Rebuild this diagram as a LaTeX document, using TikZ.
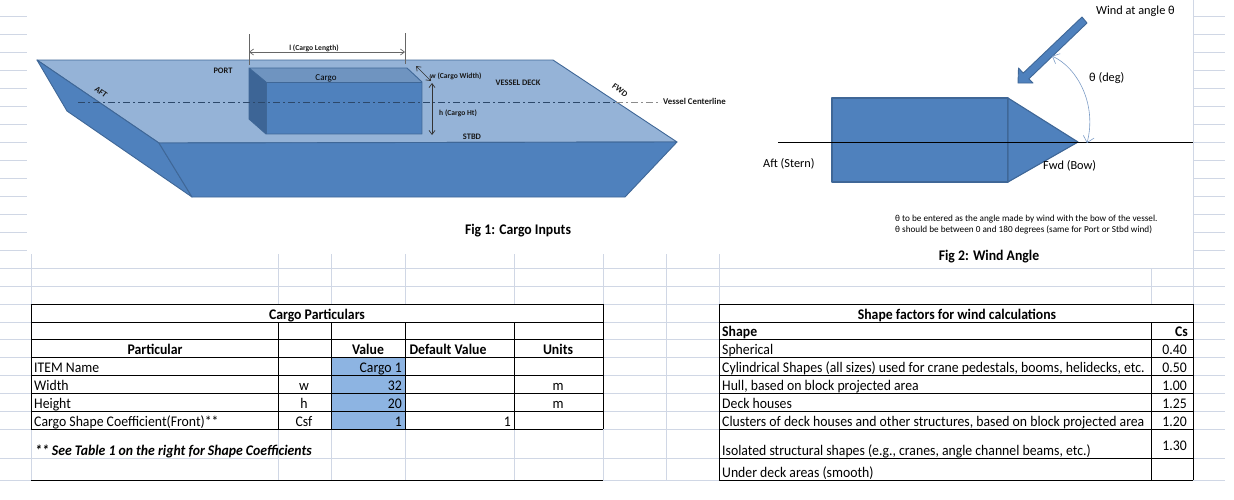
\documentclass[tikz,border=0pt]{standalone}
\usepackage{fontspec}
\setmainfont{Carlito}
\newfontfamily\cf[FakeStretch=0.935]{Carlito}
\usetikzlibrary{arrows.meta}
\definecolor{gridc}{HTML}{D0D7E5}
\definecolor{deckc}{HTML}{95B3D7}
\definecolor{hullc}{HTML}{4F81BD}
\definecolor{edgec}{HTML}{3F6797}
\definecolor{toptc}{HTML}{6F94C0}
\definecolor{sidec}{HTML}{3D6596}
\definecolor{valc}{HTML}{8DB4E2}
\definecolor{arcc}{HTML}{7C9CC6}
\tikzset{
 gridl/.style={gridc,line width=1pt},
 tabl/.style={black,line width=1pt},
 solid3d/.style={draw=edgec,line width=0.9pt,line join=round},
 cellt/.style={inner sep=0pt,anchor=base,yshift=-1pt,font=\cf\fontsize{14.7}{16}\selectfont},
 celll/.style={cellt,anchor=base west},
 cellr/.style={cellt,anchor=base east},
 cellb/.style={cellt,font=\cf\fontsize{14.7}{16}\selectfont\bfseries},
 tiny/.style={inner sep=0pt,anchor=base,font=\fontsize{7.6}{9}\selectfont\bfseries,text=black!90},
 lab/.style={inner sep=0pt,anchor=base,font=\fontsize{12.3}{14}\selectfont},
 note/.style={inner sep=0pt,anchor=base west,font=\fontsize{9.2}{11}\selectfont},
 dimarrow/.style={draw=black!60,line width=0.7pt,{Straight Barb[length=4pt,width=6pt]}-{Straight Barb[length=4pt,width=6pt]}},
 dimtick/.style={draw=black!60,line width=0.8pt},
 centerl/.style={draw=#1,line width=0.8pt,dash pattern=on 7pt off 3pt on 2pt off 3pt},
 arcarrow/.style={draw=arcc,line width=0.6pt,{Straight Barb[length=6pt,width=11pt]}-{Straight Barb[length=6pt,width=11pt]}},
}
\begin{document}
\begin{tikzpicture}[x=1pt,y=-1pt]
\useasboundingbox (0,0) rectangle (1234,499);
% sheet grid
\foreach \y in {16,34,...,250} {
  \draw[gridl] (0,\y) -- (27,\y);
  \draw[gridl] (1193,\y) -- (1225,\y);
}
\foreach \y in {268,286,304,322,339,357,375,393,411,429,458,480}
  \draw[gridl] (0,\y) -- (1225,\y);
\foreach \x in {31,278,331,405,514,603,719} \draw[gridl] (\x,254) -- (\x,304);
\foreach \x in {31,278,331,405,514,603} \draw[gridl] (\x,429) -- (\x,480);
\draw[gridl] (666,254) -- (666,480);
\draw[gridl] (1151,268) -- (1151,304);
\draw[gridl] (1193,0) -- (1193,480);
% white behind tables' merged cells
\fill[white] (31,304) rectangle (603,429);
\fill[white] (719,304) rectangle (1193,480);
% Fig 1 vessel
\coordinate (dA) at (37,60); \coordinate (dB) at (553,60); \coordinate (dC) at (677,142);
\coordinate (dD) at (159,143); \coordinate (hA) at (192,197); \coordinate (hB) at (625,197);
\coordinate (pA) at (67,111);
\filldraw[solid3d,fill=deckc] (dA) -- (dB) -- (dC) -- (dD) -- cycle;
\filldraw[solid3d,fill=hullc] (dA) -- (pA) -- (hA) -- (dD) -- cycle;
\filldraw[solid3d,fill=hullc] (dD) -- (dC) -- (hB) -- (hA) -- cycle;
% cargo
\coordinate (cA) at (249,68); \coordinate (cB) at (407,68); \coordinate (cC) at (422,82);
\coordinate (cD) at (266,82); \coordinate (cE) at (266,134); \coordinate (cF) at (249,119);
\coordinate (cG) at (422,134);
\fill[toptc] (cA) -- (cB) -- (cC) -- (cD) -- cycle;
\fill[sidec] (cA) -- (cD) -- (cE) -- (cF) -- cycle;
\fill[hullc] (cD) -- (cC) -- (cG) -- (cE) -- cycle;
\draw[solid3d] (cD) -- (cA) -- (cB) -- (cC) -- (cG) -- (cE) -- (cF) -- (cA);
\draw[edgec,line width=0.6pt] (cD) -- (cC) (cD) -- (cE);
% centerline
\coordinate (clA) at (78,102); \coordinate (clB) at (616,102); \coordinate (clC) at (661,102);
\draw[centerl=edgec!70!black] (clA) -- (clB);
\draw[centerl=black!45] (clB) -- (clC);
% dimensions
\coordinate (tA) at (249,34); \coordinate (tB) at (249,65);
\coordinate (tC) at (405,33); \coordinate (tD) at (405,64);
\coordinate (lA) at (249,52); \coordinate (lB) at (405,52);
\draw[dimtick] (tA) -- (tB); \draw[dimtick] (tC) -- (tD);
\draw[dimarrow] (lA) -- (lB);
\coordinate (wA) at (416,66); \coordinate (wB) at (431,81);
\draw[dimarrow,draw=black!80] (wA) -- (wB);
\coordinate (hgA) at (432,83); \coordinate (hgB) at (432,135);
\draw[dimarrow,draw=black!80] (hgA) -- (hgB);
% Fig 1 labels
\node[tiny] (tl) at (314,50) {l (Cargo Length)};
\node[tiny,anchor=base west] (tw) at (430,78) {w (Cargo Width)};
\node[tiny,anchor=base west] (th) at (439,115) {h (Cargo Ht)};
\node[tiny,font=\fontsize{8.4}{9}\selectfont\bfseries] (tport) at (223,73) {PORT};
\node[tiny,font=\fontsize{9}{9}\selectfont,text=black] (tcargo) at (326,80) {Cargo};
\node[tiny,font=\fontsize{8.4}{9}\selectfont\bfseries] (tdeck) at (518,85) {VESSEL DECK};
\node[tiny,font=\fontsize{8.4}{9}\selectfont\bfseries] (tstbd) at (472,139) {STBD};
\node[tiny,font=\fontsize{8.4}{9}\selectfont\bfseries,rotate=-37,anchor=center] (tfwd) at (620,90) {FWD};
\node[tiny,font=\fontsize{8.4}{9}\selectfont\bfseries,rotate=-37,anchor=center] (taft) at (101,92) {AFT};
\node[tiny,anchor=base west,font=\fontsize{8.8}{9}\selectfont\bfseries] (tcl) at (663,104) {Vessel Centerline};
\node[cellb] (fig1) at (518,233) {Fig 1: Cargo Inputs};
% Fig 2 vessel
\coordinate (vA) at (832,98); \coordinate (vB) at (1008,98); \coordinate (vC) at (1008,182);
\coordinate (vD) at (832,182); \coordinate (vT) at (1078,142);
\filldraw[solid3d,fill=hullc,line width=1.1pt] (vA) -- (vB) -- (vC) -- (vD) -- cycle;
\filldraw[solid3d,fill=hullc,line width=1.1pt] (vB) -- (vT) -- (vC) -- cycle;
\coordinate (axA) at (778,142); \coordinate (axB) at (1193,142);
\draw[black,line width=0.9pt] (axA) -- (axB);
% wind arrow
\filldraw[solid3d,fill=hullc,line width=0.9pt] (1082,17) -- (1087,23) -- (1028.8,78.9) -- (1033,83) -- (1018,83) -- (1018.5,68) -- (1023.2,73.1) -- cycle;
\coordinate (arcA) at (1052,56); \coordinate (arcB) at (1087,143);
\draw[arcarrow] (arcA) .. controls (1078,68) and (1097,105) .. (arcB);
\node[lab,anchor=base west] (twind) at (1096,14) {Wind at angle θ};
\node[lab,anchor=base west] (tdeg) at (1089,81) {θ (deg)};
\node[lab,anchor=base west] (taftb) at (763,167) {Aft (Stern)};
\node[lab,anchor=base west] (tfwdb) at (1043,169) {Fwd (Bow)};
\node[note] (n1) at (895,221) {θ to be entered as the angle made by wind with the bow of the vessel.};
\node[note] (n2) at (895,232) {θ should be between 0 and 180 degrees (same for Port or Stbd wind)};
\node[cellb] (fig2) at (989,259) {Fig 2: Wind Angle};
% Table 1
\fill[valc] (331,357) rectangle (405,429);
\foreach \y in {304,322,339,357,375,393,411,429} \draw[tabl] (31,\y) -- (603,\y);
\draw[tabl] (31,480) -- (603,480);
\draw[tabl] (31,304) -- (31,429); \draw[tabl] (603,304) -- (603,429);
\foreach \x in {278,331,405,514} \draw[tabl] (\x,322) -- (\x,429);
\node[cellb] (a1) at (317,318) {Cargo Particulars};
\node[cellb] (a2) at (155,353) {Particular};
\node[cellb] (a3) at (368,353) {Value};
\node[cellb] (a4) at (448,353) {Default Value};
\node[cellb] (a5) at (558,353) {Units};
\node[celll] (b1) at (34,371) {ITEM Name};
\node[cellr] (b2) at (402,371) {Cargo 1};
\node[celll] (c1) at (34,389) {Width};
\node[cellt] (c2) at (304,389) {w};
\node[cellr] (c3) at (402,389) {32};
\node[cellt] (c4) at (558,389) {m};
\node[celll] (d1) at (34,407) {Height};
\node[cellt] (d2) at (304,407) {h};
\node[cellr] (d3) at (402,407) {20};
\node[cellt] (d4) at (558,407) {m};
\node[celll] (e1) at (34,425) {Cargo Shape Coefficient(Front)**};
\node[cellt] (e2) at (304,425) {Csf};
\node[cellr] (e3) at (402,425) {1};
\node[cellr] (e4) at (511,425) {1};
\node[celll,font=\cf\fontsize{14.7}{16}\selectfont\bfseries\itshape] (f1) at (35,454) {** See Table 1 on the right for Shape Coefficients};
% Table 2
\foreach \y in {304,322,339,357,375,393,411,429,458,480} \draw[tabl] (719,\y) -- (1193,\y);
\draw[tabl] (719,304) -- (719,480); \draw[tabl] (1193,304) -- (1193,480);
\draw[tabl] (1151,322) -- (1151,480);
\node[cellb] (g1) at (957,318) {Shape factors for wind calculations};
\node[celll,font=\cf\fontsize{14.7}{16}\selectfont\bfseries] (g2) at (722,335) {Shape};
\node[cellr,font=\cf\fontsize{14.7}{16}\selectfont\bfseries] (g3) at (1188,335) {Cs};
\node[celll] (h1) at (722,353) {Spherical};
\node[cellr] (h2) at (1187,353) {0.40};
\node[celll] (i1) at (722,371) {Cylindrical Shapes (all sizes) used for crane pedestals, booms, helidecks, etc.};
\node[cellr] (i2) at (1187,371) {0.50};
\node[celll] (j1) at (722,389) {Hull, based on block projected area};
\node[cellr] (j2) at (1187,389) {1.00};
\node[celll] (k1) at (722,407) {Deck houses};
\node[cellr] (k2) at (1187,407) {1.25};
\node[celll] (l1) at (722,425) {Clusters of deck houses and other structures, based on block projected area};
\node[cellr] (l2) at (1187,425) {1.20};
\node[celll] (m1) at (722,454) {Isolated structural shapes (e.g., cranes, angle channel beams, etc.)};
\node[cellr] (m2) at (1187,449) {1.30};
\node[celll] (o1) at (722,476) {Under deck areas (smooth)};
\end{tikzpicture}
\end{document}
